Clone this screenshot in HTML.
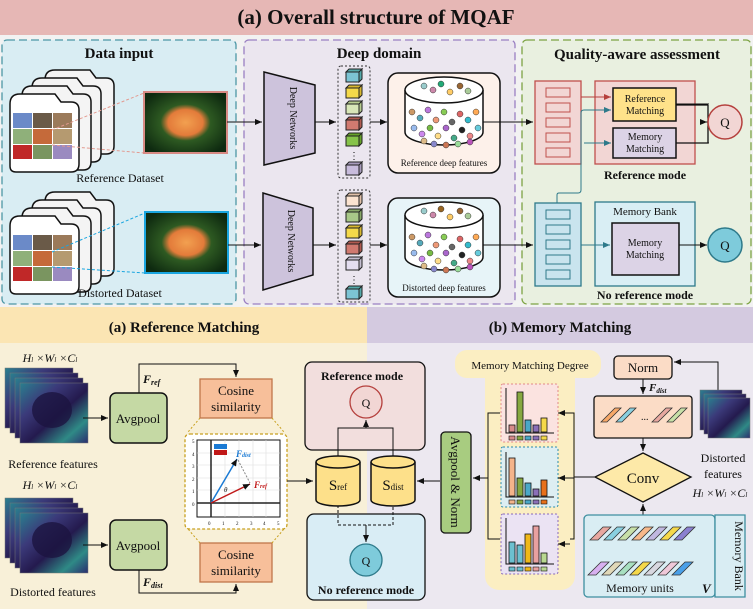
<!DOCTYPE html>
<html><head><meta charset="utf-8"><style>
html,body{margin:0;padding:0;background:#fff}
svg{display:block}
text{font-family:"Liberation Serif",serif;fill:#111}
.b{font-weight:bold}
</style></head><body>
<svg width="753" height="609" viewBox="0 0 753 609" xmlns="http://www.w3.org/2000/svg">
<defs>
<marker id="ar" markerWidth="8" markerHeight="8" refX="7" refY="4" orient="auto" markerUnits="userSpaceOnUse"><path d="M0,1 L7,4 L0,7 Z" fill="#111"/></marker>
<marker id="arR" markerWidth="8" markerHeight="8" refX="7" refY="4" orient="auto" markerUnits="userSpaceOnUse"><path d="M0,1 L7,4 L0,7 Z" fill="#b5403d"/></marker>
<marker id="arT" markerWidth="8" markerHeight="8" refX="7" refY="4" orient="auto" markerUnits="userSpaceOnUse"><path d="M0,1 L7,4 L0,7 Z" fill="#2e7a8a"/></marker>
<linearGradient id="fm" x1="0" y1="0" x2="1" y2="1"><stop offset="0" stop-color="#2a7f8e"/><stop offset="0.3" stop-color="#3b3a7a"/><stop offset="0.55" stop-color="#241a4e"/><stop offset="0.8" stop-color="#2f8a86"/><stop offset="1" stop-color="#2b2d6e"/></linearGradient>
<radialGradient id="fish" cx="0.5" cy="0.5" r="0.6"><stop offset="0" stop-color="#f2a050"/><stop offset="0.35" stop-color="#e37b3a"/><stop offset="0.5" stop-color="#2e5a22"/><stop offset="1" stop-color="#0e2a10"/></radialGradient>
</defs>

<!-- Top title -->
<rect x="0" y="0" width="753" height="35" fill="#e6b7b5"/>
<text x="376" y="24" text-anchor="middle" font-size="21" class="b">(a) Overall structure of MQAF</text>
<rect x="0" y="35" width="753" height="272" fill="#f2f2f2"/>

<!-- panels -->
<rect x="2" y="40" width="234" height="264" rx="5" fill="#d9edf3" stroke="#4d97a6" stroke-width="1.3" stroke-dasharray="8,4"/>
<rect x="244" y="40" width="271" height="264" rx="5" fill="#ebe6ef" stroke="#9a7fc2" stroke-width="1.3" stroke-dasharray="8,4"/>
<rect x="522" y="40" width="229" height="264" rx="5" fill="#e9f0e0" stroke="#7da344" stroke-width="1.3" stroke-dasharray="8,4"/>
<text x="119" y="58" text-anchor="middle" font-size="15" class="b">Data input</text>
<text x="379" y="58" text-anchor="middle" font-size="15" class="b">Deep domain</text>
<text x="637" y="59" text-anchor="middle" font-size="15" class="b">Quality-aware assessment</text>

<!-- dataset stacks -->
<g stroke="#111" stroke-width="1.5">
<g id="stk">
<path d="M45,80 q0,-10 10,-10 h35 l6,8 h10 q8,0 8,8 v60 q0,8 -8,8 h-55 q-6,0 -6,-6 z" fill="#f4f4f4"/>
<path d="M32,88 q0,-10 10,-10 h35 l6,8 h10 q8,0 8,8 v60 q0,8 -8,8 h-55 q-6,0 -6,-6 z" fill="#f4f4f4"/>
<path d="M22,96 q0,-10 10,-10 h35 l6,8 h10 q8,0 8,8 v60 q0,8 -8,8 h-55 q-6,0 -6,-6 z" fill="#f4f4f4"/>
<path d="M10,104 q0,-10 10,-10 h35 l6,8 h10 q8,0 8,8 v54 q0,8 -8,8 h-55 q-6,0 -6,-6 z" fill="#fff"/>
</g>
</g>
<g stroke="none">
<rect x="13" y="113" width="19" height="15" fill="#6b8ac8"/><rect x="33" y="113" width="19" height="15" fill="#6a5a48"/><rect x="53" y="113" width="19" height="15" fill="#9b7a5a"/>
<rect x="13" y="129" width="19" height="15" fill="#8fb07a"/><rect x="33" y="129" width="19" height="15" fill="#c56a3a"/><rect x="53" y="129" width="19" height="15" fill="#b59a70"/>
<rect x="13" y="145" width="19" height="14" fill="#c02828"/><rect x="33" y="145" width="19" height="14" fill="#7a9560"/><rect x="53" y="145" width="19" height="14" fill="#9a8ac0"/>
</g>
<g transform="translate(0,122)" stroke="#111" stroke-width="1.5">
<path d="M45,80 q0,-10 10,-10 h35 l6,8 h10 q8,0 8,8 v60 q0,8 -8,8 h-55 q-6,0 -6,-6 z" fill="#f4f4f4"/>
<path d="M32,88 q0,-10 10,-10 h35 l6,8 h10 q8,0 8,8 v60 q0,8 -8,8 h-55 q-6,0 -6,-6 z" fill="#f4f4f4"/>
<path d="M22,96 q0,-10 10,-10 h35 l6,8 h10 q8,0 8,8 v60 q0,8 -8,8 h-55 q-6,0 -6,-6 z" fill="#f4f4f4"/>
<path d="M10,104 q0,-10 10,-10 h35 l6,8 h10 q8,0 8,8 v54 q0,8 -8,8 h-55 q-6,0 -6,-6 z" fill="#fff"/>
<g stroke="none">
<rect x="13" y="113" width="19" height="15" fill="#6b8ac8"/><rect x="33" y="113" width="19" height="15" fill="#6a5a48"/><rect x="53" y="113" width="19" height="15" fill="#9b7a5a"/>
<rect x="13" y="129" width="19" height="15" fill="#8fb07a"/><rect x="33" y="129" width="19" height="15" fill="#c56a3a"/><rect x="53" y="129" width="19" height="15" fill="#b59a70"/>
<rect x="13" y="145" width="19" height="14" fill="#c02828"/><rect x="33" y="145" width="19" height="14" fill="#7a9560"/><rect x="53" y="145" width="19" height="14" fill="#9a8ac0"/>
</g></g>
<line x1="52" y1="130" x2="144" y2="93" stroke="#e39a90" stroke-dasharray="3,2"/>
<line x1="52" y1="145" x2="144" y2="153" stroke="#e39a90" stroke-dasharray="3,2"/>
<line x1="52" y1="252" x2="145" y2="213" stroke="#1aa6e0" stroke-dasharray="3,2"/>
<line x1="52" y1="267" x2="145" y2="273" stroke="#1aa6e0" stroke-dasharray="3,2"/>
<rect x="144" y="92" width="83" height="61" fill="url(#fish)" stroke="#d88a84" stroke-width="2"/>
<rect x="145" y="212" width="83" height="61" fill="url(#fish)" stroke="#1aa6e0" stroke-width="2"/>
<text x="120" y="182" text-anchor="middle" font-size="12">Reference Dataset</text>
<text x="120" y="297" text-anchor="middle" font-size="12">Distorted Dataset</text>

<!-- arrows to networks -->
<line x1="227" y1="122" x2="262" y2="122" stroke="#111" marker-end="url(#ar)"/>
<line x1="228" y1="245" x2="261" y2="245" stroke="#111" marker-end="url(#ar)"/>
<path d="M264,72 L315,85 L315,153 L264,165 Z" fill="#cdc3dc" stroke="#111" stroke-width="1.5"/>
<path d="M263,193 L313,208 L313,275 L263,290 Z" fill="#cdc3dc" stroke="#111" stroke-width="1.5"/>
<text transform="translate(290,118) rotate(90)" text-anchor="middle" font-size="10">Deep Networks</text>
<text transform="translate(288,241) rotate(90)" text-anchor="middle" font-size="10">Deep Networks</text>
<line x1="315" y1="122" x2="336" y2="122" stroke="#111" marker-end="url(#ar)"/>
<line x1="313" y1="245" x2="336" y2="245" stroke="#111" marker-end="url(#ar)"/>

<!-- cubes -->
<rect x="338" y="66" width="32" height="112" rx="3" fill="none" stroke="#333" stroke-dasharray="2,2"/>
<rect x="338" y="190" width="32" height="112" rx="3" fill="none" stroke="#333" stroke-dasharray="2,2"/>
<g stroke="#222" stroke-width="1">
<g id="c1"><rect x="346" y="72" width="13" height="10" fill="#7cc4d4"/><path d="M346,72 l3,-3 h13 l-3,3z M359,72 l3,-3 v10 l-3,3z" fill="#5aa"/></g>
<rect x="346" y="88" width="13" height="10" fill="#f5d94a"/><path d="M346,88 l3,-3 h13 l-3,3z M359,88 l3,-3 v10 l-3,3z" fill="#d8b830"/>
<rect x="346" y="104" width="13" height="10" fill="#d8e6b8"/><path d="M346,104 l3,-3 h13 l-3,3z M359,104 l3,-3 v10 l-3,3z" fill="#b8cc90"/>
<rect x="346" y="120" width="13" height="10" fill="#d07a70"/><path d="M346,120 l3,-3 h13 l-3,3z M359,120 l3,-3 v10 l-3,3z" fill="#b05a50"/>
<rect x="346" y="136" width="13" height="10" fill="#86c34a"/><path d="M346,136 l3,-3 h13 l-3,3z M359,136 l3,-3 v10 l-3,3z" fill="#66a32a"/>
<rect x="346" y="165" width="13" height="10" fill="#c8bcdc"/><path d="M346,165 l3,-3 h13 l-3,3z M359,165 l3,-3 v10 l-3,3z" fill="#a89cbc"/>
<rect x="346" y="196" width="13" height="10" fill="#fbe3d0"/><path d="M346,196 l3,-3 h13 l-3,3z M359,196 l3,-3 v10 l-3,3z" fill="#e0c0a8"/>
<rect x="346" y="212" width="13" height="10" fill="#a8c888"/><path d="M346,212 l3,-3 h13 l-3,3z M359,212 l3,-3 v10 l-3,3z" fill="#88a868"/>
<rect x="346" y="228" width="13" height="10" fill="#f5d94a"/><path d="M346,228 l3,-3 h13 l-3,3z M359,228 l3,-3 v10 l-3,3z" fill="#d8b830"/>
<rect x="346" y="244" width="13" height="10" fill="#d07a70"/><path d="M346,244 l3,-3 h13 l-3,3z M359,244 l3,-3 v10 l-3,3z" fill="#b05a50"/>
<rect x="346" y="260" width="13" height="10" fill="#e4def0"/><path d="M346,260 l3,-3 h13 l-3,3z M359,260 l3,-3 v10 l-3,3z" fill="#c4bed0"/>
<rect x="346" y="289" width="13" height="10" fill="#7cc4d4"/><path d="M346,289 l3,-3 h13 l-3,3z M359,289 l3,-3 v10 l-3,3z" fill="#5aa"/>
</g>
<text x="354" y="159" text-anchor="middle" font-size="10">⋮</text>
<text x="354" y="283" text-anchor="middle" font-size="10">⋮</text>
<line x1="370" y1="122" x2="387" y2="122" stroke="#111" marker-end="url(#ar)"/>
<line x1="370" y1="245" x2="387" y2="245" stroke="#111" marker-end="url(#ar)"/>

<!-- cylinders -->
<rect x="388" y="73" width="112" height="100" rx="10" fill="#fdf1ea" stroke="#111" stroke-width="1.5"/>
<rect x="388" y="198" width="112" height="99" rx="10" fill="#e7f4f8" stroke="#111" stroke-width="1.5"/>
<g stroke="#111" stroke-width="1.5" fill="#fff">
<path d="M405,90 v42 a39,13 0 0 0 78,0 v-42"/><ellipse cx="444" cy="90" rx="39" ry="13"/>
<path d="M405,215 v42 a39,13 0 0 0 78,0 v-42"/><ellipse cx="444" cy="215" rx="39" ry="13"/>
</g>
<g stroke="#333" stroke-width="0.5">
<circle cx="424" cy="86" r="3" fill="#9cc"/><circle cx="433" cy="90" r="3" fill="#c8a"/><circle cx="441" cy="84" r="3" fill="#2a7"/><circle cx="450" cy="92" r="3" fill="#fc6"/><circle cx="460" cy="86" r="3" fill="#963"/><circle cx="468" cy="91" r="3" fill="#ac9"/>
<circle cx="412" cy="112" r="3" fill="#c96"/><circle cx="420" cy="118" r="3" fill="#5ab"/><circle cx="428" cy="110" r="3" fill="#b7d"/><circle cx="436" cy="120" r="3" fill="#e97"/><circle cx="444" cy="112" r="3" fill="#8c5"/><circle cx="452" cy="122" r="3" fill="#666"/><circle cx="460" cy="114" r="3" fill="#d66"/><circle cx="468" cy="120" r="3" fill="#3bc"/><circle cx="476" cy="112" r="3" fill="#fa5"/>
<circle cx="414" cy="128" r="3" fill="#9be"/><circle cx="422" cy="134" r="3" fill="#c8e"/><circle cx="430" cy="128" r="3" fill="#7b4"/><circle cx="438" cy="136" r="3" fill="#fd8"/><circle cx="446" cy="128" r="3" fill="#a6c"/><circle cx="454" cy="138" r="3" fill="#4a8"/><circle cx="462" cy="130" r="3" fill="#222"/><circle cx="470" cy="136" r="3" fill="#e88"/><circle cx="478" cy="128" r="3" fill="#6cd"/>
<circle cx="424" cy="141" r="3" fill="#db8"/><circle cx="434" cy="144" r="3" fill="#88c"/><circle cx="446" cy="145" r="3" fill="#c75"/><circle cx="458" cy="144" r="3" fill="#9d9"/><circle cx="470" cy="142" r="3" fill="#b5b"/>
</g>
<g stroke="#333" stroke-width="0.5" transform="translate(0,125)">
<circle cx="424" cy="86" r="3" fill="#9cc"/><circle cx="433" cy="90" r="3" fill="#c8a"/><circle cx="441" cy="84" r="3" fill="#962"/><circle cx="450" cy="92" r="3" fill="#fc6"/><circle cx="460" cy="86" r="3" fill="#963"/><circle cx="468" cy="91" r="3" fill="#ac9"/>
<circle cx="412" cy="112" r="3" fill="#c96"/><circle cx="420" cy="118" r="3" fill="#5ab"/><circle cx="428" cy="110" r="3" fill="#b7d"/><circle cx="436" cy="120" r="3" fill="#e97"/><circle cx="444" cy="112" r="3" fill="#8c5"/><circle cx="452" cy="122" r="3" fill="#666"/><circle cx="460" cy="114" r="3" fill="#d66"/><circle cx="468" cy="120" r="3" fill="#3bc"/><circle cx="476" cy="112" r="3" fill="#fa5"/>
<circle cx="414" cy="128" r="3" fill="#9be"/><circle cx="422" cy="134" r="3" fill="#c8e"/><circle cx="430" cy="128" r="3" fill="#7b4"/><circle cx="438" cy="136" r="3" fill="#fd8"/><circle cx="446" cy="128" r="3" fill="#a6c"/><circle cx="454" cy="138" r="3" fill="#4a8"/><circle cx="462" cy="130" r="3" fill="#222"/><circle cx="470" cy="136" r="3" fill="#e88"/><circle cx="478" cy="128" r="3" fill="#6cd"/>
<circle cx="424" cy="141" r="3" fill="#db8"/><circle cx="434" cy="144" r="3" fill="#88c"/><circle cx="446" cy="145" r="3" fill="#c75"/><circle cx="458" cy="144" r="3" fill="#9d9"/><circle cx="470" cy="142" r="3" fill="#b5b"/>
</g>
<text x="444" y="166" text-anchor="middle" font-size="9">Reference deep features</text>
<text x="444" y="291" text-anchor="middle" font-size="9">Distorted deep features</text>
<line x1="483" y1="122" x2="533" y2="122" stroke="#111" marker-end="url(#ar)"/>
<line x1="483" y1="245" x2="533" y2="245" stroke="#111" marker-end="url(#ar)"/>

<!-- QA section -->
<rect x="535" y="81" width="46" height="83" fill="#f2d6d4" stroke="#c0504d" stroke-width="1.3"/>
<g fill="none" stroke="#c0504d"><rect x="546" y="88" width="24" height="9"/><rect x="546" y="103" width="24" height="9"/><rect x="546" y="118" width="24" height="9"/><rect x="546" y="133" width="24" height="9"/><rect x="546" y="148" width="24" height="9"/></g>
<rect x="535" y="203" width="46" height="83" fill="#c9e4ee" stroke="#2e7a8a" stroke-width="1.3"/>
<g fill="none" stroke="#2e7a8a"><rect x="546" y="210" width="24" height="9"/><rect x="546" y="225" width="24" height="9"/><rect x="546" y="240" width="24" height="9"/><rect x="546" y="255" width="24" height="9"/><rect x="546" y="270" width="24" height="9"/></g>
<rect x="595" y="81" width="100" height="83" fill="#f2d6d4" stroke="#c0504d" stroke-width="1.3"/>
<rect x="613" y="88" width="63" height="33" fill="#ffe28a" stroke="#111" stroke-width="1.5"/>
<rect x="613" y="128" width="63" height="30" fill="#dcd3e6" stroke="#111" stroke-width="1.5"/>
<text x="645" y="102" text-anchor="middle" font-size="10">Reference</text><text x="645" y="114" text-anchor="middle" font-size="10">Matching</text>
<text x="645" y="140" text-anchor="middle" font-size="10">Memory</text><text x="645" y="152" text-anchor="middle" font-size="10">Matching</text>
<line x1="581" y1="97" x2="611" y2="97" stroke="#b5403d" marker-end="url(#arR)"/>
<path d="M557,203 v-8 q0,-2 2,-2 h19 q3,0 3,-3 v-77 q0,-3 3,-3 h27" fill="none" stroke="#2e7a8a" marker-end="url(#arT)"/>
<path d="M584,143 h27" fill="none" stroke="#2e7a8a" marker-end="url(#arT)"/>
<path d="M676,104 h33 q0,0 0,0 M676,143 h33" fill="none" stroke="#111"/>
<path d="M676,105 h32 M676,143 h32 M708,105 v38" stroke="#111" fill="none" stroke-width="1.3"/>
<line x1="708" y1="122" x2="707" y2="122" stroke="#111"/>
<line x1="700" y1="122" x2="707" y2="122" stroke="#111" marker-end="url(#ar)"/>
<circle cx="725" cy="122" r="17" fill="#f2d6d4" stroke="#b5403d" stroke-width="1.5"/>
<text x="725" y="127" text-anchor="middle" font-size="13">Q</text>
<text x="645" y="179" text-anchor="middle" font-size="12" class="b">Reference mode</text>
<rect x="595" y="202" width="100" height="84" fill="#d9eef4" stroke="#2e7a8a" stroke-width="1.3"/>
<text x="645" y="215" text-anchor="middle" font-size="11">Memory Bank</text>
<rect x="612" y="223" width="67" height="52" fill="#dcd3e6" stroke="#111" stroke-width="1.5"/>
<text x="645" y="246" text-anchor="middle" font-size="10">Memory</text><text x="645" y="258" text-anchor="middle" font-size="10">Matching</text>
<line x1="581" y1="245" x2="610" y2="245" stroke="#2e7a8a" marker-end="url(#arT)"/>
<line x1="679" y1="245" x2="707" y2="245" stroke="#111" marker-end="url(#ar)"/>
<circle cx="725" cy="245" r="17" fill="#7ecbdb" stroke="#2e7a8a" stroke-width="1.5"/>
<text x="725" y="250" text-anchor="middle" font-size="13">Q</text>
<text x="645" y="299" text-anchor="middle" font-size="12" class="b">No reference mode</text>

<!-- Bottom section -->
<rect x="0" y="307" width="367" height="302" fill="#f8f0d8"/>
<rect x="0" y="307" width="367" height="36" fill="#fbe5b3"/>
<rect x="367" y="307" width="386" height="302" fill="#ece8f0"/>
<rect x="367" y="307" width="386" height="36" fill="#d4cae0"/>
<text x="184" y="332" text-anchor="middle" font-size="15" class="b">(a)  Reference Matching</text>
<text x="560" y="332" text-anchor="middle" font-size="15" class="b">(b) Memory Matching</text>

<!-- feature maps -->
<g stroke="#777" stroke-width="0.5">
<rect x="5" y="368" width="68" height="60" fill="url(#fm)"/><rect x="10" y="373" width="68" height="60" fill="url(#fm)"/><rect x="15" y="378" width="68" height="60" fill="url(#fm)"/><rect x="20" y="383" width="68" height="60" fill="url(#fm)"/>
<rect x="5" y="498" width="68" height="60" fill="url(#fm)"/><rect x="10" y="503" width="68" height="60" fill="url(#fm)"/><rect x="15" y="508" width="68" height="60" fill="url(#fm)"/><rect x="20" y="513" width="68" height="60" fill="url(#fm)"/>
</g>
<ellipse cx="52" cy="410" rx="20" ry="18" fill="#1c1440" opacity="0.8"/>
<ellipse cx="52" cy="540" rx="20" ry="18" fill="#1c1440" opacity="0.8"/>
<text x="50" y="362" text-anchor="middle" font-size="12" font-style="italic">H<tspan font-size="7">l</tspan> ×W<tspan font-size="7">l</tspan> ×C<tspan font-size="7">l</tspan></text>
<text x="50" y="489" text-anchor="middle" font-size="12" font-style="italic">H<tspan font-size="7">l</tspan> ×W<tspan font-size="7">l</tspan> ×C<tspan font-size="7">l</tspan></text>
<text x="53" y="468" text-anchor="middle" font-size="12">Reference features</text>
<text x="53" y="596" text-anchor="middle" font-size="12">Distorted features</text>
<line x1="83" y1="418" x2="108" y2="418" stroke="#111" marker-end="url(#ar)"/>
<line x1="83" y1="545" x2="108" y2="545" stroke="#111" marker-end="url(#ar)"/>
<rect x="110" y="393" width="57" height="50" rx="6" fill="#c5d9a4" stroke="#111" stroke-width="1.5"/>
<rect x="110" y="520" width="57" height="50" rx="6" fill="#c5d9a4" stroke="#111" stroke-width="1.5"/>
<text x="138" y="423" text-anchor="middle" font-size="13">Avgpool</text>
<text x="138" y="550" text-anchor="middle" font-size="13">Avgpool</text>
<path d="M139,393 v-29 h97 v13" fill="none" stroke="#111" marker-end="url(#ar)"/>
<path d="M139,570 v23 h97 v-9" fill="none" stroke="#111" marker-end="url(#ar)"/>
<text x="143" y="383" font-size="12" font-weight="bold" font-style="italic">F<tspan font-size="8" dy="2">ref</tspan></text>
<text x="143" y="586" font-size="12" font-weight="bold" font-style="italic">F<tspan font-size="8" dy="2">dist</tspan></text>
<rect x="200" y="379" width="72" height="39" fill="#f7bf9a" stroke="#c0764a" stroke-width="1.3"/>
<rect x="200" y="543" width="72" height="39" fill="#f7bf9a" stroke="#c0764a" stroke-width="1.3"/>
<text x="236" y="395" text-anchor="middle" font-size="13">Cosine</text><text x="236" y="411" text-anchor="middle" font-size="13">similarity</text>
<text x="236" y="559" text-anchor="middle" font-size="13">Cosine</text><text x="236" y="575" text-anchor="middle" font-size="13">similarity</text>
<line x1="200" y1="418" x2="188" y2="432" stroke="#c8a020" stroke-dasharray="2,2"/><line x1="272" y1="418" x2="284" y2="432" stroke="#c8a020" stroke-dasharray="2,2"/>
<line x1="200" y1="543" x2="188" y2="529" stroke="#c8a020" stroke-dasharray="2,2"/><line x1="272" y1="543" x2="284" y2="529" stroke="#c8a020" stroke-dasharray="2,2"/>
<path d="M190,434 h92 q5,0 5,5 v85 q0,5 -5,5 h-92 q-5,0 -5,-5 v-85 q0,-5 5,-5z" fill="#fff" stroke="#c8a020" stroke-dasharray="3,2" stroke-width="1.3"/>
<rect x="197" y="440" width="83" height="77" fill="#fff" stroke="#111" stroke-width="1"/>
<g stroke="#ddd" stroke-width="0.6"><line x1="225" y1="440" x2="225" y2="517"/><line x1="239" y1="440" x2="239" y2="517"/><line x1="253" y1="440" x2="253" y2="517"/><line x1="266" y1="440" x2="266" y2="517"/><line x1="197" y1="490" x2="280" y2="490"/><line x1="197" y1="478" x2="280" y2="478"/><line x1="197" y1="465" x2="280" y2="465"/><line x1="197" y1="453" x2="280" y2="453"/></g>
<line x1="211" y1="440" x2="211" y2="517" stroke="#222" stroke-width="1.5"/><line x1="197" y1="503" x2="280" y2="503" stroke="#222" stroke-width="1.5"/>
<rect x="214" y="444" width="13" height="5" fill="#1a7ad4"/><rect x="214" y="450" width="13" height="5" fill="#c01818"/>
<line x1="211" y1="503" x2="237" y2="459" stroke="#1a7ad4" stroke-width="1.5" marker-end="url(#ar)"/>
<line x1="211" y1="503" x2="250" y2="484" stroke="#c01818" stroke-width="1.5" marker-end="url(#ar)"/>
<line x1="238" y1="460" x2="250" y2="483" stroke="#888" stroke-dasharray="2,1.5"/>
<text x="224" y="492" font-size="7" font-style="italic">θ</text>
<text x="236" y="457" font-size="9" font-weight="bold" font-style="italic" style="fill:#1a7ad4">F<tspan font-size="6">dist</tspan></text>
<text x="254" y="488" font-size="9" font-weight="bold" font-style="italic" style="fill:#c01818">F<tspan font-size="6">ref</tspan></text>
<g font-size="5"><text x="192" y="443">5</text><text x="192" y="456">4</text><text x="192" y="468">3</text><text x="192" y="481">2</text><text x="192" y="493">1</text><text x="192" y="506">0</text><text x="208" y="525">0</text><text x="222" y="525">1</text><text x="236" y="525">2</text><text x="250" y="525">3</text><text x="263" y="525">4</text><text x="277" y="525">5</text></g>
<line x1="287" y1="481" x2="313" y2="481" stroke="#111" marker-end="url(#ar)"/>

<!-- modes -->
<rect x="305" y="362" width="120" height="88" rx="7" fill="#f2dedd" stroke="#111" stroke-width="1.3"/>
<text x="362" y="380" text-anchor="middle" font-size="12" class="b">Reference mode</text>
<circle cx="366" cy="402" r="16" fill="#f2d6d4" stroke="#b5403d" stroke-width="1.3"/><text x="366" y="407" text-anchor="middle" font-size="12">Q</text>
<rect x="307" y="514" width="118" height="86" rx="7" fill="#d9edf5" stroke="#111" stroke-width="1.3"/>
<text x="366" y="594" text-anchor="middle" font-size="12" class="b">No reference mode</text>
<circle cx="366" cy="560" r="16" fill="#7ecbdb" stroke="#2e7a8a" stroke-width="1.3"/><text x="366" y="565" text-anchor="middle" font-size="12">Q</text>
<path d="M338,458 v-30 h55 v30" fill="none" stroke="#111"/>
<line x1="366" y1="428" x2="366" y2="420" stroke="#111" marker-end="url(#ar)"/>
<path d="M338,505 v20 h55 v-20" fill="none" stroke="#111" stroke-dasharray="3,2"/>
<line x1="366" y1="530" x2="366" y2="542" stroke="#111" marker-end="url(#ar)"/>
<path d="M366,525 v5" stroke="#111"/>
<g stroke="#111" stroke-width="1.5" fill="#fde08a">
<path d="M316,462 v38 a22,6 0 0 0 44,0 v-38"/><ellipse cx="338" cy="462" rx="22" ry="6"/>
<path d="M371,462 v38 a22,6 0 0 0 44,0 v-38"/><ellipse cx="393" cy="462" rx="22" ry="6"/>
</g>
<text x="338" y="490" text-anchor="middle" font-size="15">S<tspan font-size="9">ref</tspan></text>
<text x="393" y="490" text-anchor="middle" font-size="15">S<tspan font-size="9">dist</tspan></text>
<line x1="440" y1="481" x2="417" y2="481" stroke="#111" marker-end="url(#ar)"/>

<!-- Memory matching -->
<rect x="441" y="432" width="30" height="101" rx="4" fill="#a8cc80" stroke="#111" stroke-width="1.3"/>
<text transform="translate(451,482) rotate(90)" text-anchor="middle" font-size="13">Avgpool &amp; Norm</text>
<rect x="485" y="350" width="90" height="240" rx="14" fill="#fbeec2"/>
<rect x="455" y="350" width="146" height="28" rx="12" fill="#fbeec2"/>
<text x="530" y="369" text-anchor="middle" font-size="11">Memory Matching Degree</text>
<path d="M500,413 h-12 v126 h12 M488,478 h-14" fill="none" stroke="#111"/>
<line x1="488" y1="478" x2="473" y2="478" stroke="#111" marker-end="url(#ar)"/>
<rect x="501" y="384" width="57" height="58" rx="2" fill="#fbe3e0" stroke="#e08a88" stroke-dasharray="2,2"/>
<rect x="501" y="447" width="57" height="60" rx="2" fill="#ddeef2" stroke="#2a8aa8" stroke-dasharray="2,2"/>
<rect x="501" y="514" width="57" height="60" rx="2" fill="#ebe3f3" stroke="#8a6ab8" stroke-dasharray="2,2"/>
<g stroke="#111" stroke-width="0.8">
<rect x="509" y="425" width="6" height="7" fill="#d88a8a"/><rect x="517" y="392" width="6" height="40" fill="#86a840"/><rect x="525" y="420" width="6" height="12" fill="#4aa8c8"/><rect x="533" y="425" width="6" height="7" fill="#8a70b8"/><rect x="541" y="418" width="6" height="14" fill="#f5d94a"/>
<rect x="509" y="458" width="6" height="38" fill="#f4b48a"/><rect x="517" y="478" width="6" height="18" fill="#86a840"/><rect x="525" y="483" width="6" height="13" fill="#4aa8c8"/><rect x="533" y="489" width="6" height="7" fill="#8a70b8"/><rect x="541" y="480" width="6" height="16" fill="#e8701a"/>
<rect x="509" y="542" width="6" height="21" fill="#6cc0d0"/><rect x="517" y="545" width="6" height="18" fill="#6cc0d0"/><rect x="525" y="534" width="6" height="29" fill="#f0b818"/><rect x="533" y="526" width="6" height="37" fill="#e8a0a0"/><rect x="541" y="553" width="6" height="10" fill="#b8d890"/>
</g>
<g stroke="#111" fill="none" stroke-width="1">
<path d="M506,388 v45 h48"/><path d="M506,452 v45 h48"/><path d="M506,518 v46 h48"/>
</g>
<g stroke="#111" stroke-width="0.6">
<rect x="509" y="436" width="6" height="4" fill="#d88a8a"/><rect x="517" y="436" width="6" height="4" fill="#86a840"/><rect x="525" y="436" width="6" height="4" fill="#4aa8c8"/><rect x="533" y="436" width="6" height="4" fill="#8a70b8"/><rect x="541" y="436" width="6" height="4" fill="#f5d94a"/>
<rect x="509" y="500" width="6" height="4" fill="#f4b48a"/><rect x="517" y="500" width="6" height="4" fill="#86a840"/><rect x="525" y="500" width="6" height="4" fill="#4aa8c8"/><rect x="533" y="500" width="6" height="4" fill="#8a70b8"/><rect x="541" y="500" width="6" height="4" fill="#e8701a"/>
<rect x="509" y="567" width="6" height="4" fill="#6cc0d0"/><rect x="517" y="567" width="6" height="4" fill="#6cc0d0"/><rect x="525" y="567" width="6" height="4" fill="#f0b818"/><rect x="533" y="567" width="6" height="4" fill="#e8a0a0"/><rect x="541" y="567" width="6" height="4" fill="#b8d890"/>
</g>
<path d="M570,413 h4 v126 h-4 M595,477 h-21" fill="none" stroke="#111"/>
<line x1="570" y1="413" x2="558" y2="413" stroke="#111" marker-end="url(#ar)"/>
<line x1="574" y1="478" x2="558" y2="478" stroke="#111" marker-end="url(#ar)"/>
<line x1="570" y1="544" x2="558" y2="544" stroke="#111" marker-end="url(#ar)"/>

<rect x="614" y="356" width="58" height="23" rx="4" fill="#fbdcc6" stroke="#111" stroke-width="1.3"/>
<text x="643" y="372" text-anchor="middle" font-size="13">Norm</text>
<path d="M718,390 v-28 h-44" fill="none" stroke="#111" marker-end="url(#ar)"/>
<line x1="643" y1="379" x2="643" y2="394" stroke="#111" marker-end="url(#ar)"/>
<text x="649" y="391" font-size="11" font-weight="bold" font-style="italic">F<tspan font-size="7" dy="2">dist</tspan></text>
<rect x="594" y="396" width="98" height="42" rx="3" fill="#fbdcc6" stroke="#111" stroke-width="1.3"/>
<g stroke="#333" stroke-width="0.8">
<path d="M601,422 l14,-14 h6 l-14,14z" fill="#f7a868"/><path d="M616,422 l14,-14 h6 l-14,14z" fill="#8ad0e0"/><path d="M652,422 l14,-14 h6 l-14,14z" fill="#e8a8a0"/><path d="M667,422 l14,-14 h6 l-14,14z" fill="#c8e0a8"/>
</g>
<text x="641" y="420" font-size="10">...</text>
<line x1="643" y1="438" x2="643" y2="451" stroke="#111" marker-end="url(#ar)"/>
<path d="M643,453 L691,477 L643,502 L595,477 Z" fill="#fde9a8" stroke="#111" stroke-width="1.3"/>
<text x="643" y="483" text-anchor="middle" font-size="15">Conv</text>
<line x1="643" y1="515" x2="643" y2="504" stroke="#111" marker-end="url(#ar)"/>
<g stroke="#777" stroke-width="0.5">
<rect x="700" y="390" width="42" height="40" fill="url(#fm)"/><rect x="704" y="394" width="42" height="40" fill="url(#fm)"/><rect x="708" y="398" width="42" height="40" fill="url(#fm)"/></g>
<text x="723" y="462" text-anchor="middle" font-size="12">Distorted</text>
<text x="723" y="478" text-anchor="middle" font-size="12">features</text>
<text x="720" y="497" text-anchor="middle" font-size="12" font-style="italic">H<tspan font-size="7">l</tspan> ×W<tspan font-size="7">l</tspan> ×C<tspan font-size="7">l</tspan></text>
<rect x="584" y="515" width="131" height="82" rx="4" fill="#d9edf3" stroke="#3e8fa0" stroke-width="1.3"/>
<path d="M715,515 h30 v82 h-30 z" fill="#d9edf3" stroke="#3e8fa0" stroke-width="1.3"/>
<text transform="translate(735,556) rotate(90)" text-anchor="middle" font-size="12">Memory Bank</text>
<g stroke="#333" stroke-width="0.8">
<path d="M590,540 l13,-13 h8 l-13,13z" fill="#e8a8a0"/><path d="M604,540 l13,-13 h8 l-13,13z" fill="#8ad0e0"/><path d="M618,540 l13,-13 h8 l-13,13z" fill="#c8e0a8"/><path d="M632,540 l13,-13 h8 l-13,13z" fill="#f7b88a"/><path d="M646,540 l13,-13 h8 l-13,13z" fill="#c0b8e0"/><path d="M660,540 l13,-13 h8 l-13,13z" fill="#f5d94a"/><path d="M674,540 l13,-13 h8 l-13,13z" fill="#8a80d0"/>
<path d="M588,575 l13,-13 h8 l-13,13z" fill="#d8b0f0"/><path d="M602,575 l13,-13 h8 l-13,13z" fill="#e0d8b8"/><path d="M616,575 l13,-13 h8 l-13,13z" fill="#a8e0c0"/><path d="M630,575 l13,-13 h8 l-13,13z" fill="#f5d94a"/><path d="M644,575 l13,-13 h8 l-13,13z" fill="#d8d8e0"/><path d="M658,575 l13,-13 h8 l-13,13z" fill="#f0c8d8"/><path d="M672,575 l13,-13 h8 l-13,13z" fill="#4aa0e8"/>
</g>
<text x="640" y="592" text-anchor="middle" font-size="12">Memory units</text>
<text x="702" y="593" font-size="13" font-weight="bold" font-style="italic">V</text>
</svg>
</body></html>
